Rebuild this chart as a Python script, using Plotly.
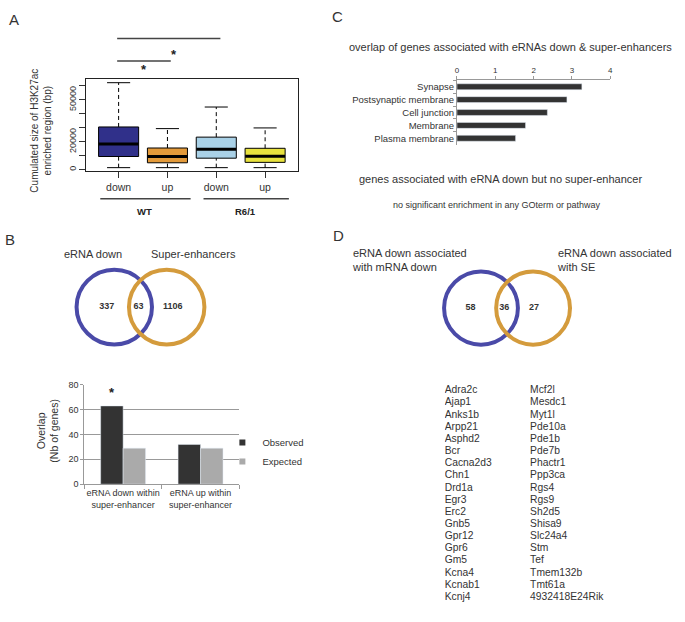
import plotly.graph_objects as go

W, H = 685, 622
FONT = "Liberation Sans, Arial, sans-serif"

def px(x):
    return x / W

def py(y):
    return 1 - y / H

# ---------------- data ----------------
# Panel A: box plot summary (bp)
box_labels = ["down", "up", "down", "up"]
box_groups = ["WT", "R6/1"]
box_low = [1400, 1400, 1400, 1400]
box_q1 = [9400, 4900, 8200, 5200]
box_med = [18350, 9400, 14600, 9650]
box_q3 = [30600, 15500, 23300, 15300]
box_high = [62350, 29400, 44900, 29900]
box_colors = ["#30308a", "#e39a3a", "#a9d1e7", "#e8e23e"]
a_tickvals = [0, 10000, 20000, 30000, 40000, 50000, 60000]
a_ticktext = ["0", "", "20000", "", "", "50000", ""]

# Panel B: Venn
venn_b_sets = ["eRNA down", "Super-enhancers"]
venn_b_counts = [337, 63, 1106]

# Panel B: bar chart
b_categories = ["eRNA down within<br>super-enhancer", "eRNA up within<br>super-enhancer"]
b_observed = [63, 32]
b_expected = [29, 29]
b_colors = ["#333333", "#aaaaaa"]

# Panel C
c_terms = ["Synapse", "Postsynaptic membrane", "Cell junction", "Membrane", "Plasma membrane"]
c_values = [3.26, 2.87, 2.36, 1.79, 1.53]

# Panel D
venn_d_sets = ["eRNA down associated<br>with mRNA down", "eRNA down associated<br>with SE"]
venn_d_counts = [58, 36, 27]
genes_col1 = ["Adra2c", "Ajap1", "Anks1b", "Arpp21", "Asphd2", "Bcr", "Cacna2d3", "Chn1",
              "Drd1a", "Egr3", "Erc2", "Gnb5", "Gpr12", "Gpr6", "Gm5", "Kcna4", "Kcnab1", "Kcnj4"]
genes_col2 = ["Mcf2l", "Mesdc1", "Myt1l", "Pde10a", "Pde1b", "Pde7b", "Phactr1", "Ppp3ca",
              "Rgs4", "Rgs9", "Sh2d5", "Shisa9", "Slc24a4", "Stm", "Tef", "Tmem132b", "Tmt61a",
              "4932418E24Rik"]

fig = go.Figure()

# ---------------- Panel A ----------------
pos = list(range(len(box_labels)))
fig.add_trace(go.Bar(
    x=pos, y=[q3 - q1 for q1, q3 in zip(box_q1, box_q3)], base=box_q1, width=0.82,
    marker=dict(color=box_colors, line=dict(color="black", width=1)),
    showlegend=False, xaxis="x", yaxis="y", hoverinfo="skip"))
wx, wy = [], []
for p, lo, q1, q3, hi in zip(pos, box_low, box_q1, box_q3, box_high):
    wx += [p, p, None, p, p, None]
    wy += [lo, q1, None, q3, hi, None]
fig.add_trace(go.Scatter(x=wx, y=wy, mode="lines",
                         line=dict(color="black", width=1, dash="4px,3px"),
                         showlegend=False, xaxis="x", yaxis="y", hoverinfo="skip"))
fig.add_trace(go.Scatter(x=pos + pos, y=box_low + box_high, mode="markers",
                         marker=dict(symbol="line-ew", size=16.5, line=dict(color="black", width=1)),
                         showlegend=False, xaxis="x", yaxis="y", hoverinfo="skip"))
fig.add_trace(go.Scatter(x=pos, y=box_med, mode="markers",
                         marker=dict(symbol="line-ew", size=28.5, line=dict(color="black", width=3)),
                         showlegend=False, xaxis="x", yaxis="y", hoverinfo="skip"))

# ---------------- Venn numbers ----------------
fig.add_trace(go.Scatter(x=[-0.85, -0.05, 0.81], y=[0, 0, 0], mode="text",
                         text=[str(v) for v in venn_b_counts],
                         textfont=dict(family=FONT, size=9, color="#333333"),
                         texttemplate="<b>%{text}</b>",
                         showlegend=False, xaxis="x2", yaxis="y2", hoverinfo="skip"))
fig.add_trace(go.Scatter(x=[-0.92, -0.07, 0.68], y=[0, 0, 0], mode="text",
                         text=[str(v) for v in venn_d_counts],
                         textfont=dict(family=FONT, size=9, color="#333333"),
                         texttemplate="<b>%{text}</b>",
                         showlegend=False, xaxis="x5", yaxis="y5", hoverinfo="skip"))

# ---------------- Panel B bar chart ----------------
fig.add_trace(go.Bar(x=b_categories, y=b_observed, name="Observed", showlegend=False,
                     marker=dict(color=b_colors[0]), xaxis="x3", yaxis="y3", hoverinfo="skip"))
fig.add_trace(go.Bar(x=b_categories, y=b_expected, name="Expected", showlegend=False,
                     marker=dict(color=b_colors[1]), xaxis="x3", yaxis="y3", hoverinfo="skip"))
# legend entries with small square symbols
for name, col in zip(["Observed", "Expected"], b_colors):
    fig.add_trace(go.Scatter(x=[None], y=[None], mode="markers", name=name,
                             marker=dict(symbol="square", size=6, color=col),
                             xaxis="x3", yaxis="y3"))

# ---------------- Panel C ----------------
fig.add_trace(go.Bar(x=c_values, y=c_terms, orientation="h", width=0.46,
                     marker=dict(color="#333333"), showlegend=False,
                     xaxis="x4", yaxis="y4", hoverinfo="skip"))

# ---------------- Panel D gene list ----------------
gx = [0] * len(genes_col1) + [1] * len(genes_col2)
gy = list(range(len(genes_col1))) + list(range(len(genes_col2)))
fig.add_trace(go.Scatter(x=gx, y=gy, mode="text", text=genes_col1 + genes_col2,
                         textposition="middle right",
                         textfont=dict(family=FONT, size=10.3, color="#333333"),
                         showlegend=False, xaxis="x6", yaxis="y6", hoverinfo="skip"))

shapes = []
# Venn circles B
for cx, col in [(-0.66, "#4a4aa8"), (0.66, "#d49b3c")]:
    shapes.append(dict(type="circle", xref="x2", yref="y2", x0=cx - 0.95, x1=cx + 0.95,
                       y0=-0.95, y1=0.95, line=dict(color=col, width=4)))
# Venn circles D
for cx, col in [(-0.656, "#4a4aa8"), (0.656, "#d49b3c")]:
    shapes.append(dict(type="circle", xref="x5", yref="y5", x0=cx - 0.93, x1=cx + 0.93,
                       y0=-0.93, y1=0.93, line=dict(color=col, width=4)))
# Panel A group lines & significance bars
for x0, x1, y in [(99, 190, 197), (203, 289, 197), (116, 220, 34), (116, 170, 57)]:
    shapes.append(dict(type="line", xref="paper", yref="paper", x0=px(x0), x1=px(x1),
                       y0=py(y), y1=py(y), line=dict(color="#444444", width=1.5)))

def ann(text, x, y, size, xanchor="center", yanchor="middle", bold=False, angle=0, color="#333333", align="center"):
    return dict(text=("<b>%s</b>" % text) if bold else text, x=px(x), y=py(y), xref="paper", yref="paper",
                showarrow=False, xanchor=xanchor, yanchor=yanchor, textangle=angle, align=align,
                font=dict(family=FONT, size=size, color=color))

annotations = [
    ann("A", 12, 15, 15),
    ann("B", 8, 238, 15),
    ann("C", 338, 12, 15),
    ann("D", 339, 234, 15),
    ann("Cumulated size of H3K27ac<br>enriched region (bp)", 39, 128, 10, angle=-90),
    ann("WT", 144, 210, 9.5, bold=True, color="#222222"),
    ann("R6/1", 245, 210, 9.5, bold=True, color="#222222"),
    ann("*", 173, 50, 13, bold=True, color="#222222"),
    ann("*", 143, 66, 13, bold=True, color="#222222"),
    ann(venn_b_sets[0], 92, 253, 11),
    ann(venn_b_sets[1], 193, 253, 11),
    ann("Overlap<br>(Nb of genes)", 46, 433, 10.5, angle=-90),
    ann("overlap of genes associated with eRNAs down &amp; super-enhancers", 512, 43, 11),
    ann("genes associated with eRNA down but no super-enhancer", 502, 177, 11),
    ann("no significant enrichment in any GOterm or pathway", 499, 203, 9),
    ann(venn_d_sets[0], 351, 259, 11, xanchor="left", align="left"),
    ann(venn_d_sets[1], 557, 259, 11, xanchor="left", align="left"),
    dict(text="<b>*</b>", x=b_categories[0], y=b_observed[0], xref="x3", yref="y3", xshift=-11, yshift=4,
         showarrow=False, yanchor="bottom", font=dict(family=FONT, size=13, color="#222222")),
]

grey = "#999999"
fig.update_layout(
    width=W, height=H, margin=dict(l=0, r=0, t=0, b=0),
    paper_bgcolor="white", plot_bgcolor="rgba(0,0,0,0)",
    font=dict(family=FONT, color="#333333"),
    barmode="group", bargap=0.42, bargroupgap=0,
    shapes=shapes, annotations=annotations,
    legend=dict(x=px(222), y=py(430), xanchor="left", yanchor="top",
                font=dict(family=FONT, size=9.5, color="#333333"), bgcolor="rgba(0,0,0,0)",
                itemwidth=30, tracegroupgap=0),
    # Panel A
    xaxis=dict(domain=[px(85), px(298)], range=[-0.66, 3.67], anchor="y",
               tickvals=pos, ticktext=box_labels, ticks="outside", ticklen=6, tickcolor="#333",
               showline=True, mirror=True, linecolor="#222", linewidth=1, showgrid=False, zeroline=False,
               tickfont=dict(size=10.5, color="#333")),
    yaxis=dict(domain=[py(169), py(75)], range=[-1200, 65150], anchor="x",
               tickvals=a_tickvals, ticktext=a_ticktext, tickangle=-90, ticks="outside", ticklen=6,
               tickcolor="#333", showline=True, mirror=True, linecolor="#222", linewidth=1,
               showgrid=False, zeroline=False, tickfont=dict(size=9, color="#333")),
    # Venn B
    xaxis2=dict(domain=[px(59.5), px(219.5)], range=[-2, 2], anchor="y2", visible=False),
    yaxis2=dict(domain=[py(367), py(247)], range=[-1.5, 1.5], anchor="x2", visible=False),
    # Bar B
    xaxis3=dict(domain=[px(83), px(239)], anchor="y3", showline=True, linecolor=grey,
                ticks="outside", tickson="boundaries", ticklen=4, tickcolor=grey, tickangle=0,
                tickfont=dict(size=9, color="#333")),
    yaxis3=dict(domain=[py(487), py(386)], range=[0, 80], anchor="x3", dtick=20,
                showline=True, linecolor=grey, ticks="outside", ticklen=3, tickcolor=grey,
                showgrid=True, gridcolor=grey, gridwidth=1, zeroline=False,
                tickfont=dict(size=9, color="#333")),
    # Panel C
    xaxis4=dict(domain=[px(458.3), px(612.7)], range=[0, 4], anchor="y4", side="top",
                dtick=1, showline=True, linecolor=grey, ticks="outside", ticklen=3, tickcolor=grey,
                showgrid=False, zeroline=False, tickfont=dict(size=8, color="#333")),
    yaxis4=dict(domain=[py(142), py(76)], range=[4.5, -0.54], anchor="x4",
                showline=True, linecolor=grey, ticks="outside", tickson="boundaries", ticklen=3,
                tickcolor=grey, tickfont=dict(size=9.5, color="#333")),
    # Venn D
    xaxis5=dict(domain=[px(428.75), px(588.75)], range=[-2, 2], anchor="y5", visible=False),
    yaxis5=dict(domain=[py(368), py(248)], range=[-1.5, 1.5], anchor="x5", visible=False),
    # Gene list
    xaxis6=dict(domain=[px(446), px(618)], range=[0, 2], anchor="y6", visible=False),
    yaxis6=dict(domain=[py(608.2), py(385.8)], range=[17.5, -0.5], anchor="x6", visible=False),
)

fig.write_html("out.html", config={"displayModeBar": False},
               post_script="document.body.style.margin='0';")
